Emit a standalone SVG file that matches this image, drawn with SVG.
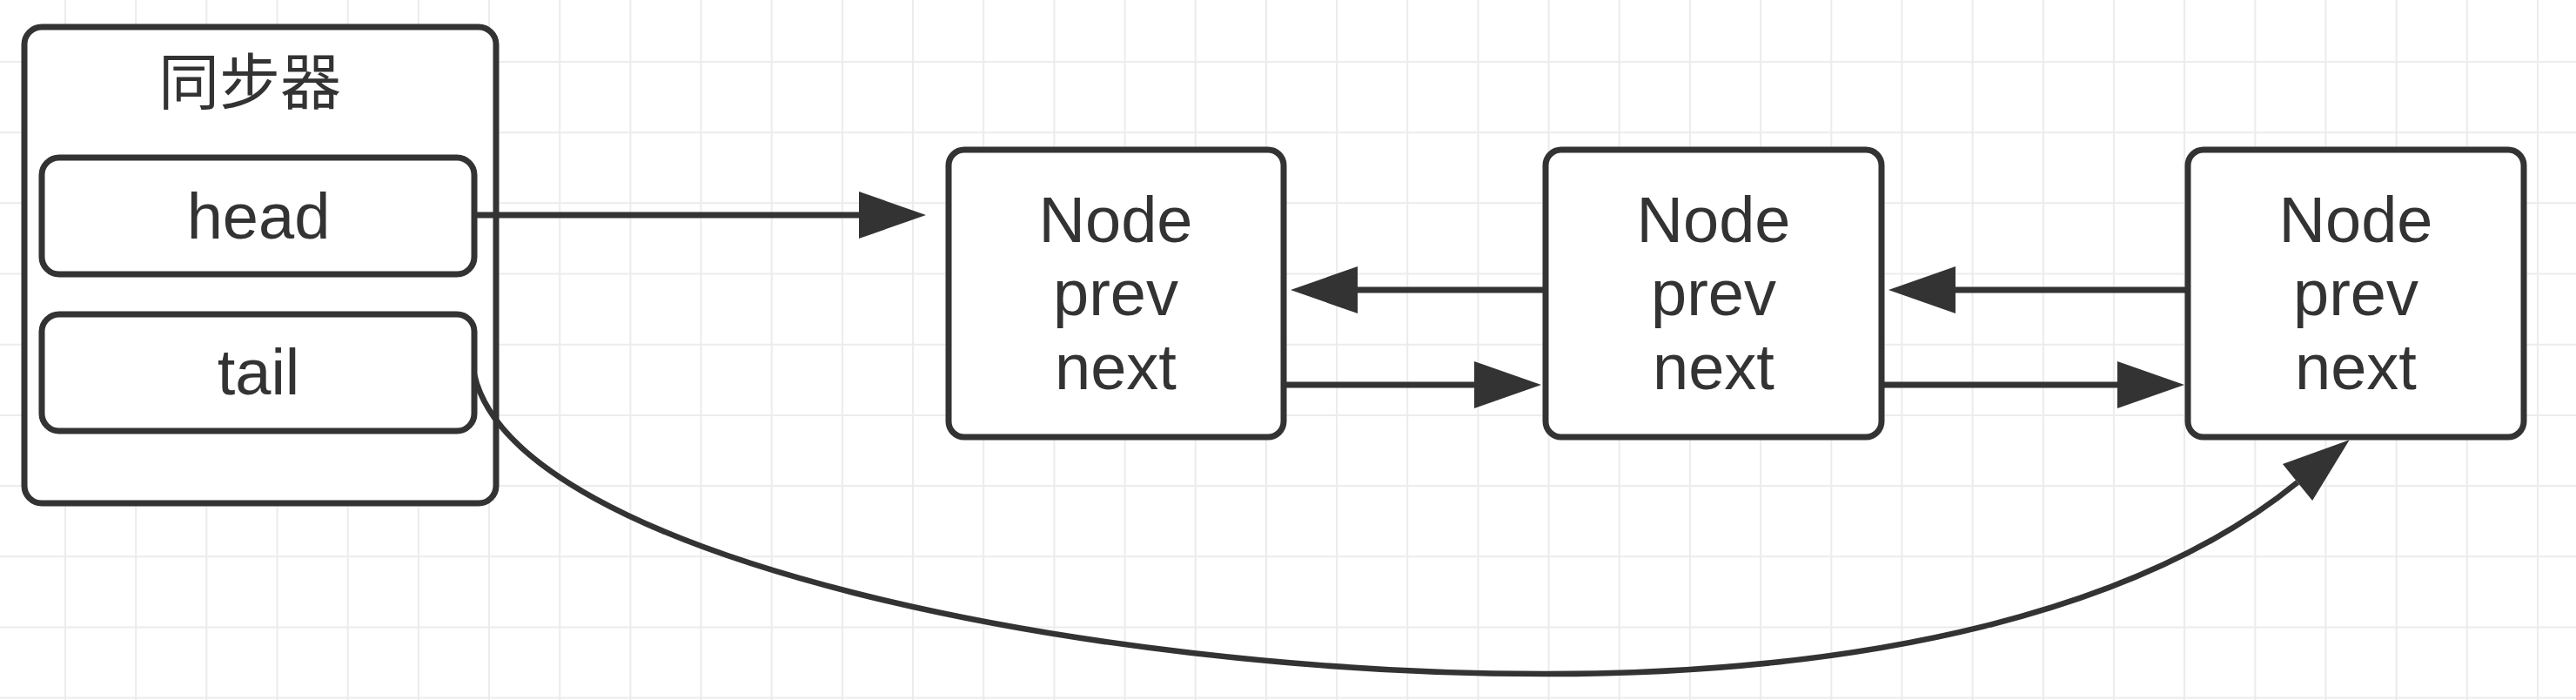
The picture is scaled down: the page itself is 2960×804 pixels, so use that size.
<svg xmlns="http://www.w3.org/2000/svg" width="2960" height="804" viewBox="0 0 2960 804">
  <style>
    .box { fill: #ffffff; stroke: #333333; stroke-width: 7; }
    .lbl { font-family: "Liberation Sans", Arial, sans-serif; font-size: 74px; fill: #333333; text-anchor: middle; }
    .cjk { font-family: "Noto Sans CJK SC", "Liberation Sans", sans-serif; font-size: 70px; fill: #333333; text-anchor: middle; }
    .edge { fill: none; stroke: #333333; stroke-width: 7; }
    .grid { fill: none; stroke: #ececec; stroke-width: 2; }
  </style>
  <defs>
    <marker id="arrow" markerUnits="userSpaceOnUse" markerWidth="80" markerHeight="56" refX="0" refY="27" orient="auto" overflow="visible">
      <path d="M0 0 L77 27 L0 54 Z" fill="#333333"/>
    </marker>
  </defs>
  <rect x="0" y="0" width="2960" height="804" fill="#ffffff"/>
  <path class="grid" d="M75 0V804 M156.2 0V804 M237.3 0V804 M318.5 0V804 M399.7 0V804 M480.9 0V804 M562 0V804 M643.2 0V804 M724.4 0V804 M805.5 0V804 M886.7 0V804 M967.9 0V804 M1049 0V804 M1130.2 0V804 M1211.4 0V804 M1292.6 0V804 M1373.7 0V804 M1454.9 0V804 M1536.1 0V804 M1617.2 0V804 M1698.4 0V804 M1779.6 0V804 M1860.7 0V804 M1941.9 0V804 M2023.1 0V804 M2104.3 0V804 M2185.4 0V804 M2266.6 0V804 M2347.8 0V804 M2428.9 0V804 M2510.1 0V804 M2591.3 0V804 M2672.4 0V804 M2753.6 0V804 M2834.8 0V804 M2916 0V804 M0 71H2960 M0 152.2H2960 M0 233.3H2960 M0 314.5H2960 M0 395.7H2960 M0 476.9H2960 M0 558H2960 M0 639.2H2960 M0 720.4H2960 M0 801.5H2960"/>

  <g id="sync">
    <rect class="box" x="28" y="31" width="542" height="547" rx="20" ry="20"/>
    <text class="cjk" x="287" y="120">同步器</text>
  </g>
  <g id="head">
    <rect class="box" x="48" y="181" width="497" height="134" rx="20" ry="20"/>
    <text class="lbl" x="297" y="274">head</text>
  </g>
  <g id="tail">
    <rect class="box" x="48" y="361" width="497" height="134" rx="20" ry="20"/>
    <text class="lbl" x="297" y="453">tail</text>
  </g>
  <g id="node1">
    <rect class="box" x="1090" y="172" width="385" height="330" rx="18" ry="18"/>
    <text class="lbl" x="1282" y="278">Node</text>
    <text class="lbl" x="1282" y="362">prev</text>
    <text class="lbl" x="1282" y="447">next</text>
  </g>
  <g id="node2">
    <rect class="box" x="1776" y="172" width="386" height="330" rx="18" ry="18"/>
    <text class="lbl" x="1969" y="278">Node</text>
    <text class="lbl" x="1969" y="362">prev</text>
    <text class="lbl" x="1969" y="447">next</text>
  </g>
  <g id="node3">
    <rect class="box" x="2514" y="172" width="386" height="330" rx="18" ry="18"/>
    <text class="lbl" x="2707" y="278">Node</text>
    <text class="lbl" x="2707" y="362">prev</text>
    <text class="lbl" x="2707" y="447">next</text>
  </g>

  <g id="connectors">
    <path class="edge" d="M547 247 H987" marker-end="url(#arrow)"/>
    <path class="edge" d="M1776 333 H1560" marker-end="url(#arrow)"/>
    <path class="edge" d="M1475 442 H1694" marker-end="url(#arrow)"/>
    <path class="edge" d="M2514 333 H2247" marker-end="url(#arrow)"/>
    <path class="edge" d="M2162 442 H2433" marker-end="url(#arrow)"/>
    <path class="edge" style="stroke-width:6.5" d="M545 430 C592 640 1250 774 1775 774 C2150 774 2460 701 2640 554" marker-end="url(#arrow)"/>
  </g>
</svg>
